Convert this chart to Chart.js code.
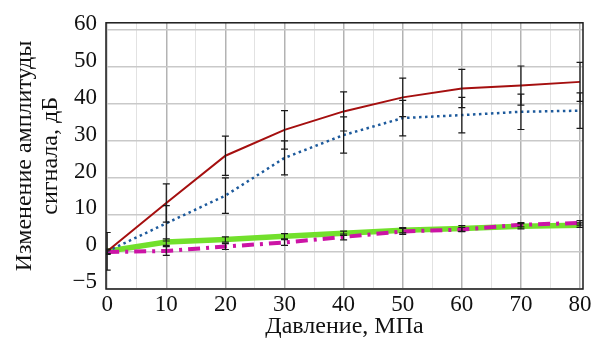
<!DOCTYPE html>
<html lang="ru">

<head>
  <meta charset="UTF-8" />
  <title>Изменение амплитуды сигнала</title>
  <script src="https://cdn.jsdelivr.net/npm/chart.js"></script>
  <style>
    html, body { margin: 0; padding: 0; background: #fff; }
    #wrap { width: 601px; height: 340px; position: relative; }
  </style>
</head>

<body>
  <div id="wrap">
    <canvas id="ampChart"></canvas>
  </div>

  <script>
    // давление, МПа
    const pressure = [0, 10, 20, 30, 40, 50, 60, 70, 80];

    // значения по кривым, дБ
    const redValues = [0, 13.1, 25.9, 32.9, 37.9, 41.7, 44.1, 44.9, 45.9];
    const blueValues = [0, 7.6, 15.1, 25.3, 31.5, 36.1, 36.9, 37.8, 38.1];
    const magentaValues = [-0.2, 0.1, 1.3, 2.4, 3.9, 5.4, 5.9, 7.2, 7.7];
    const greenValues = [0, 2.5, 3.2, 4.1, 4.9, 5.7, 6.2, 6.8, 7.1];

    // погрешности (±), дБ
    const redErrors = [5.1, 5.2, 5.3, 5.2, 5.3, 5.2, 5.2, 5.3, 5.3];
    const blueErrors = [0, 4.8, 4.8, 4.6, 4.9, 4.8, 4.8, 4.8, 4.8];
    const magentaErrors = [0.6, 1.2, 0.8, 0.8, 0.8, 0.8, 0.6, 0.6, 0.6];
    const greenErrors = [0.6, 0.9, 0.7, 0.7, 0.6, 0.7, 0.8, 0.7, 0.6];

    // подписи осей
    const xTickValues = [0, 10, 20, 30, 40, 50, 60, 70, 80];
    const yTickValues = [-10, 0, 10, 20, 30, 40, 50, 60];
    const yTickLabels = ['\u22125', '0', '10', '20', '30', '40', '50', '60'];

    const serif = "'Liberation Serif', 'Times New Roman', serif";

    function toPoints(values) {
      return values.map((v, i) => ({ x: pressure[i], y: v }));
    }

    // рамка вокруг области графика
    const frame = {
      id: 'frame',
      afterDatasetsDraw(chart) {
        const a = chart.chartArea;
        const ctx = chart.ctx;
        ctx.save();
        ctx.strokeStyle = '#1a1a1a';
        ctx.lineWidth = 1.5;
        ctx.strokeRect(a.left, a.top, a.right - a.left, a.bottom - a.top);
        ctx.restore();
      }
    };

    // планки погрешностей
    const errorBars = {
      id: 'errorBars',
      afterDatasetsDraw(chart) {
        const ctx = chart.ctx;
        const a = chart.chartArea;
        const yScale = chart.scales.y;
        ctx.save();
        ctx.beginPath();
        ctx.rect(a.left, a.top, a.right - a.left, a.bottom - a.top);
        ctx.clip();
        ctx.strokeStyle = '#1a1a1a';
        ctx.lineWidth = 1.2;
        chart.data.datasets.forEach((ds, di) => {
          if (!ds.errors) return;
          const meta = chart.getDatasetMeta(di);
          meta.data.forEach((pt, i) => {
            const e = ds.errors[i];
            if (!e) return;
            const v = ds.data[i].y;
            const x = pt.x;
            const y1 = yScale.getPixelForValue(v + e);
            const y2 = yScale.getPixelForValue(v - e);
            ctx.beginPath();
            ctx.moveTo(x, y1);
            ctx.lineTo(x, y2);
            ctx.moveTo(x - 3.5, y1);
            ctx.lineTo(x + 3.5, y1);
            ctx.moveTo(x - 3.5, y2);
            ctx.lineTo(x + 3.5, y2);
            ctx.stroke();
          });
        });
        ctx.restore();
      }
    };

    const ctx = document.getElementById('ampChart').getContext('2d');
    new Chart(ctx, {
      type: 'line',
      data: {
        datasets: [
          {
            label: 'red',
            data: toPoints(redValues),
            errors: redErrors,
            borderColor: '#a50f0f',
            borderWidth: 2,
          },
          {
            label: 'blue',
            data: toPoints(blueValues),
            errors: blueErrors,
            borderColor: '#1d5a9c',
            borderWidth: 2.5,
            borderDash: [2.5, 3.5],
          },
          {
            label: 'magenta',
            data: toPoints(magentaValues),
            errors: magentaErrors,
            borderColor: '#cc14a6',
            borderWidth: 4,
            borderDash: [12, 6, 3, 6],
          },
          {
            label: 'green',
            data: toPoints(greenValues),
            errors: greenErrors,
            borderColor: '#72e02c',
            borderWidth: 5.5,
          }
        ]
      },
      options: {
        responsive: true,
        maintainAspectRatio: false,
        animation: false,
        layout: { padding: { top: 22, right: 18, left: 0, bottom: 0 } },
        elements: {
          point: { radius: 0, hoverRadius: 0 },
          line: { tension: 0, fill: false }
        },
        plugins: {
          legend: { display: false },
          tooltip: { enabled: false }
        },
        scales: {
          x: {
            type: 'linear',
            min: -0.2,
            max: 80.5,
            afterBuildTicks(scale) {
              const t = [];
              for (let v = 0; v <= 80; v += 5) t.push({ value: v });
              scale.ticks = t;
            },
            afterFit(scale) { scale.height = 51; },
            border: { display: false },
            grid: {
              drawTicks: false,
              color: (c) => (c.tick && c.tick.value % 10 === 0) ? '#b3b3b3' : '#e2e2e2',
              lineWidth: (c) => (c.tick && c.tick.value % 10 === 0) ? 1.5 : 1
            },
            ticks: {
              autoSkip: false,
              maxRotation: 0,
              padding: 2,
              color: '#111',
              font: { family: serif, size: 23 },
              callback: (v) => xTickValues.includes(v) ? String(v) : ''
            },
            title: {
              display: true,
              text: 'Давление, МПа',
              color: '#111',
              font: { family: serif, size: 24, lineHeight: 1.1 },
              padding: { top: 0, bottom: 0 }
            }
          },
          y: {
            min: -10.2,
            max: 61.9,
            afterBuildTicks(scale) {
              scale.ticks = yTickValues.map(v => ({ value: v }));
            },
            afterFit(scale) { scale.width = 106; },
            border: { display: false },
            grid: {
              drawTicks: false,
              color: '#c9c9c9',
              lineWidth: 1.5
            },
            ticks: {
              autoSkip: false,
              padding: 9,
              labelOffset: -6,
              color: '#111',
              font: { family: serif, size: 23 },
              callback: (v) => {
                const i = yTickValues.indexOf(v);
                return i >= 0 ? yTickLabels[i] : '';
              }
            },
            title: {
              display: true,
              text: ['Изменение амплитуды', 'сигнала, дБ'],
              color: '#111',
              font: { family: serif, size: 24, lineHeight: 1.08 },
              padding: { top: 12, bottom: 0 }
            }
          }
        }
      },
      plugins: [errorBars, frame]
    });
  </script>
</body>

</html>
